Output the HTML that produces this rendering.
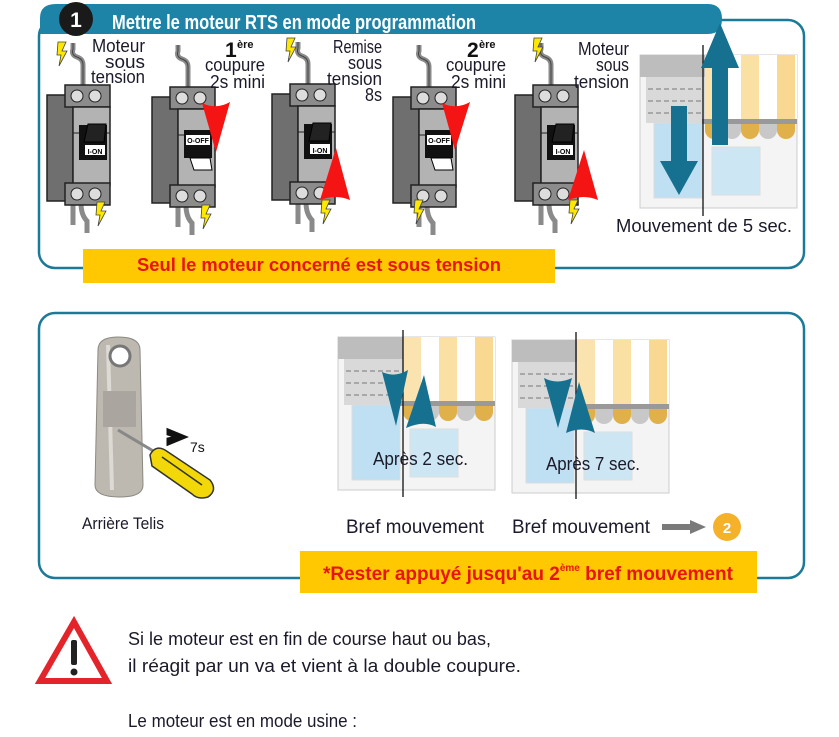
<!DOCTYPE html>
<html><head><meta charset="utf-8"><style>
html,body{margin:0;padding:0;background:#fff;}
svg{display:block;}
text{font-family:"Liberation Sans Narrow","Liberation Sans",sans-serif;}
</style></head><body>
<svg width="839" height="737" viewBox="0 0 839 737" xmlns="http://www.w3.org/2000/svg">
<defs>
<g id="brk">
  <path d="M36 0 L36 -20 Q36 -26 30 -28 Q24 -30 26 -36 L26 -42" fill="none" stroke="#8a8a8a" stroke-width="5"/>
  <path d="M36 0 L36 -20 Q36 -26 30 -28 Q24 -30 26 -36 L26 -42" fill="none" stroke="#444" stroke-width="1"/>
  <path d="M26 118 L26 140 M34 118 Q34 130 40 136 L40 148" fill="none" stroke="#8a8a8a" stroke-width="5"/>
  <rect x="0" y="10" width="26" height="106" fill="#6f6f6f" stroke="#222" stroke-width="1.5"/>
  <rect x="18" y="0" width="45" height="22" fill="#8c8c8c" stroke="#222" stroke-width="1.5"/>
  <circle cx="30" cy="11" r="6" fill="#ddd" stroke="#222"/>
  <circle cx="48" cy="11" r="6" fill="#ddd" stroke="#222"/>
  <rect x="26" y="22" width="37" height="78" fill="#b3b3b3" stroke="#222" stroke-width="1.5"/>
  <line x1="26" y1="48" x2="63" y2="48" stroke="#222"/>
  <rect x="18" y="98" width="45" height="22" fill="#8c8c8c" stroke="#222" stroke-width="1.5"/>
  <circle cx="30" cy="109" r="6" fill="#ddd" stroke="#222"/>
  <circle cx="48" cy="109" r="6" fill="#ddd" stroke="#222"/>
</g>
<g id="bolt"><path d="M0 0 L8 0 L4 9 L9 9 L1 24 L3 13 L-1 13 Z" fill="#ffe800" stroke="#444" stroke-width="0.8"/></g>
<g id="win">
  <rect x="0" y="0" width="157" height="153" fill="#f4f4f4" stroke="#ccc"/>
  <rect x="14" y="68" width="48" height="75" fill="#bfe0f2" stroke="#ddd"/>
  <rect x="72" y="92" width="48" height="48" fill="#cde6f3" stroke="#ddd"/>
  <rect x="0" y="0" width="65" height="22" fill="#bdbdbd"/>
  <rect x="6" y="22" width="59" height="46" fill="#d9d9d9"/>
  <line x1="8" y1="34" x2="62" y2="34" stroke="#777" stroke-dasharray="5 3"/>
  <line x1="8" y1="46" x2="62" y2="46" stroke="#777" stroke-dasharray="5 3"/>
  <line x1="8" y1="58" x2="62" y2="58" stroke="#777" stroke-dasharray="5 3"/>
  <rect x="65" y="0" width="92" height="66" fill="#fff"/>
  <rect x="65" y="0" width="18" height="66" fill="#fbe3b0"/>
  <rect x="101" y="0" width="18" height="66" fill="#fbe0a4"/>
  <rect x="137" y="0" width="18" height="66" fill="#f9d992"/>
  <rect x="62" y="64" width="95" height="5" fill="#999"/>
  <path d="M65 69 h18 v6 a9 9 0 0 1 -18 0 Z" fill="#e0b04a"/>
  <path d="M83 69 h18 v6 a9 9 0 0 1 -18 0 Z" fill="#c8c8c8"/>
  <path d="M101 69 h18 v6 a9 9 0 0 1 -18 0 Z" fill="#e0b04a"/>
  <path d="M119 69 h18 v6 a9 9 0 0 1 -18 0 Z" fill="#c8c8c8"/>
  <path d="M137 69 h18 v6 a9 9 0 0 1 -18 0 Z" fill="#e0b04a"/>
</g>
</defs>

<!-- box 1 -->
<rect x="39" y="20" width="765" height="248" rx="16" fill="none" stroke="#1c7a99" stroke-width="2.5"/>
<path d="M40 34 L40 18 Q40 4 56 4 L708 4 Q722 4 722 19 Q722 34 708 34 Z" fill="#1d84a8"/>
<circle cx="76" cy="19" r="17" fill="#1a1a1a"/>
<text x="76" y="27" font-size="21" font-weight="bold" fill="#fff" text-anchor="middle">1</text>
<text x="112" y="29" font-size="20" font-weight="bold" fill="#fff" textLength="364" lengthAdjust="spacingAndGlyphs">Mettre le moteur RTS en mode programmation</text>

<!-- breakers -->
<use href="#brk" x="47" y="85"/>
<use href="#brk" x="152" y="87"/>
<use href="#brk" x="272" y="84"/>
<use href="#brk" x="393" y="87"/>
<use href="#brk" x="515" y="85"/>
<!-- switches -->
<g>
 <rect x="79" y="125" width="28" height="35" fill="#111"/><path d="M84 142 L88 124 L106 124 L104 142Z" fill="#222" stroke="#000"/><rect x="85" y="145" width="20" height="10" fill="#fff"/><text x="95" y="154" font-size="7" font-weight="bold" text-anchor="middle">I-ON</text>
 <rect x="184" y="130" width="28" height="28" fill="#111"/><rect x="186" y="135" width="24" height="10" fill="#fff"/><text x="198" y="143" font-size="7" font-weight="bold" text-anchor="middle">O-OFF</text><path d="M190 158 L194 170 L212 170 L210 158Z" fill="#fff" stroke="#000"/>
 <rect x="304" y="124" width="28" height="35" fill="#111"/><path d="M309 141 L313 123 L331 123 L329 141Z" fill="#222" stroke="#000"/><rect x="310" y="144" width="20" height="10" fill="#fff"/><text x="320" y="153" font-size="7" font-weight="bold" text-anchor="middle">I-ON</text>
 <rect x="425" y="130" width="28" height="28" fill="#111"/><rect x="427" y="135" width="24" height="10" fill="#fff"/><text x="439" y="143" font-size="7" font-weight="bold" text-anchor="middle">O-OFF</text><path d="M431 158 L435 170 L453 170 L451 158Z" fill="#fff" stroke="#000"/>
 <rect x="547" y="125" width="28" height="35" fill="#111"/><path d="M552 142 L556 124 L574 124 L572 142Z" fill="#222" stroke="#000"/><rect x="553" y="145" width="20" height="10" fill="#fff"/><text x="563" y="154" font-size="7" font-weight="bold" text-anchor="middle">I-ON</text>
</g>
<!-- red arrows -->
<path d="M202 103 Q216 110 230 102 L216 152 Z" fill="#f41414"/>
<path d="M442 103 Q456 110 470 102 L455 150 Z" fill="#f41414"/>
<path d="M336 148 L350 200 Q336 194 320 200 Z" fill="#f41414"/>
<path d="M584 150 L598 200 Q584 194 568 200 Z" fill="#f41414"/>
<!-- bolts -->
<use href="#bolt" x="58" y="42"/>
<use href="#bolt" x="97" y="202"/>
<use href="#bolt" x="202" y="205"/>
<use href="#bolt" x="287" y="38"/>
<use href="#bolt" x="322" y="200"/>
<use href="#bolt" x="415" y="200"/>
<use href="#bolt" x="534" y="38"/>
<use href="#bolt" x="570" y="200"/>

<!-- labels top -->
<g font-size="18" fill="#1a1a2a" text-anchor="end" lengthAdjust="spacingAndGlyphs">
 <text x="145" y="52" textLength="53" lengthAdjust="spacingAndGlyphs">Moteur</text><text x="145" y="68" textLength="40" lengthAdjust="spacingAndGlyphs">sous</text><text x="145" y="83" textLength="54" lengthAdjust="spacingAndGlyphs">tension</text>
 <text x="265" y="71" textLength="60" lengthAdjust="spacingAndGlyphs">coupure</text><text x="265" y="88" textLength="55" lengthAdjust="spacingAndGlyphs">2s mini</text>
 <text x="382" y="53" textLength="49" lengthAdjust="spacingAndGlyphs">Remise</text><text x="382" y="69" textLength="34" lengthAdjust="spacingAndGlyphs">sous</text><text x="382" y="85" textLength="55" lengthAdjust="spacingAndGlyphs">tension</text><text x="382" y="101" textLength="17" lengthAdjust="spacingAndGlyphs">8s</text>
 <text x="506" y="71" textLength="60" lengthAdjust="spacingAndGlyphs">coupure</text><text x="506" y="88" textLength="55" lengthAdjust="spacingAndGlyphs">2s mini</text>
 <text x="629" y="55" textLength="51" lengthAdjust="spacingAndGlyphs">Moteur</text><text x="629" y="71" textLength="33" lengthAdjust="spacingAndGlyphs">sous</text><text x="629" y="88" textLength="55" lengthAdjust="spacingAndGlyphs">tension</text>
</g>
<text x="225" y="57" font-size="21" font-weight="bold" fill="#111">1</text><text x="237" y="48" font-size="11" font-weight="bold" fill="#111">ère</text>
<text x="467" y="57" font-size="21" font-weight="bold" fill="#111">2</text><text x="479" y="48" font-size="11" font-weight="bold" fill="#111">ère</text>

<!-- window 1 -->
<use href="#win" x="640" y="55"/>
<line x1="703" y1="45" x2="703" y2="216" stroke="#111" stroke-width="1.3"/>
<path d="M671 106 h16 v55 h11 l-19 34 l-19 -34 h11 Z" fill="#16708f"/>
<path d="M712 145 h16 v-77 h11 l-19 -45 l-19 45 h11 Z" fill="#16708f"/>
<text x="616" y="232" font-size="18" fill="#1a1a2a" textLength="176" lengthAdjust="spacingAndGlyphs">Mouvement de 5 sec.</text>

<!-- yellow banner 1 -->
<rect x="83" y="249" width="472" height="34" fill="#ffc800"/>
<text x="319" y="271" font-size="18" font-weight="bold" fill="#e8140f" text-anchor="middle" textLength="364" lengthAdjust="spacingAndGlyphs">Seul le moteur concerné est sous tension</text>

<!-- box 2 -->
<rect x="39" y="313" width="765" height="265" rx="16" fill="none" stroke="#1c7a99" stroke-width="2.5"/>

<!-- Telis remote -->
<path d="M98 350 Q98 337 118 337 Q140 337 140 350 L143 485 Q143 497 120 497 Q95 497 95 485 Z" fill="#bdb8b0" stroke="#8d8880"/>
<path d="M108 345 L112 490" stroke="#e6e2dc" stroke-width="4" opacity="0.8"/>
<circle cx="120" cy="356" r="10" fill="#fff" stroke="#777" stroke-width="3"/>
<rect x="103" y="391" width="33" height="36" fill="#aaa59e"/>
<line x1="118" y1="430" x2="160" y2="455" stroke="#888" stroke-width="3"/>
<path d="M150 455 Q156 443 168 452 L210 480 Q218 490 208 497 Q198 500 192 494 L152 466 Z" fill="#f2d808" stroke="#333" stroke-width="1.5"/>
<path d="M162 457 L202 485" stroke="#333" stroke-width="1.5"/>
<path d="M168 430 L185 437 L168 444 L168 439 L177 437 L168 434Z" fill="#111" stroke="#111" stroke-width="3"/>
<text x="190" y="452" font-size="14" fill="#111">7s</text>
<text x="82" y="529" font-size="17" fill="#1a1a2a" textLength="82" lengthAdjust="spacingAndGlyphs">Arrière Telis</text>

<!-- windows 2,3 -->
<use href="#win" x="338" y="337"/>
<line x1="403" y1="330" x2="403" y2="497" stroke="#111" stroke-width="1.3"/>
<path d="M382 372 Q395 378 408 370 L396 426 Z" fill="#16708f"/>
<path d="M424 375 L436 427 Q424 420 406 428 Z" fill="#16708f"/>
<text x="373" y="465" font-size="18" fill="#1a1a2a" textLength="95" lengthAdjust="spacingAndGlyphs">Après 2 sec.</text>
<use href="#win" x="512" y="340"/>
<line x1="576" y1="332" x2="576" y2="499" stroke="#111" stroke-width="1.3"/>
<path d="M544 378 Q557 385 572 378 L558 428 Z" fill="#16708f"/>
<path d="M579 382 L595 433 Q582 426 566 433 Z" fill="#16708f"/>
<text x="546" y="470" font-size="18" fill="#1a1a2a" textLength="94" lengthAdjust="spacingAndGlyphs">Après 7 sec.</text>

<text x="346" y="533" font-size="19" fill="#1a1a2a" textLength="138" lengthAdjust="spacingAndGlyphs">Bref mouvement</text>
<text x="512" y="533" font-size="19" fill="#1a1a2a" textLength="138" lengthAdjust="spacingAndGlyphs">Bref mouvement</text>
<path d="M662 524 h28 v-4 l16 7 l-16 7 v-4 h-28 Z" fill="#7a7a7a"/>
<circle cx="727" cy="527" r="14" fill="#f5b12a"/>
<text x="727" y="533" font-size="15" font-weight="bold" fill="#fff" text-anchor="middle">2</text>

<rect x="300" y="551" width="457" height="42" fill="#ffc800"/>
<text x="323" y="580" font-size="19" font-weight="bold" fill="#e8140f">*Rester appuyé jusqu'au 2<tspan font-size="10" dy="-9">ème</tspan><tspan dy="9"> bref mouvement</tspan></text>

<!-- warning -->
<path d="M74 622 L107 681 L40 681 Z" fill="#fff" stroke="#e3242b" stroke-width="6" stroke-linejoin="miter"/>
<rect x="71" y="640" width="6" height="25" fill="#222" rx="2"/>
<circle cx="74" cy="672" r="3.5" fill="#222"/>
<g font-size="18" fill="#1a1a2a">
<text x="128" y="645" textLength="363" lengthAdjust="spacingAndGlyphs">Si le moteur est en fin de course haut ou bas,</text>
<text x="128" y="672" textLength="393" lengthAdjust="spacingAndGlyphs">il réagit par un va et vient à la double coupure.</text>
<text x="128" y="727" textLength="229" lengthAdjust="spacingAndGlyphs">Le moteur est en mode usine :</text>
</g>
</svg>
</body></html>
